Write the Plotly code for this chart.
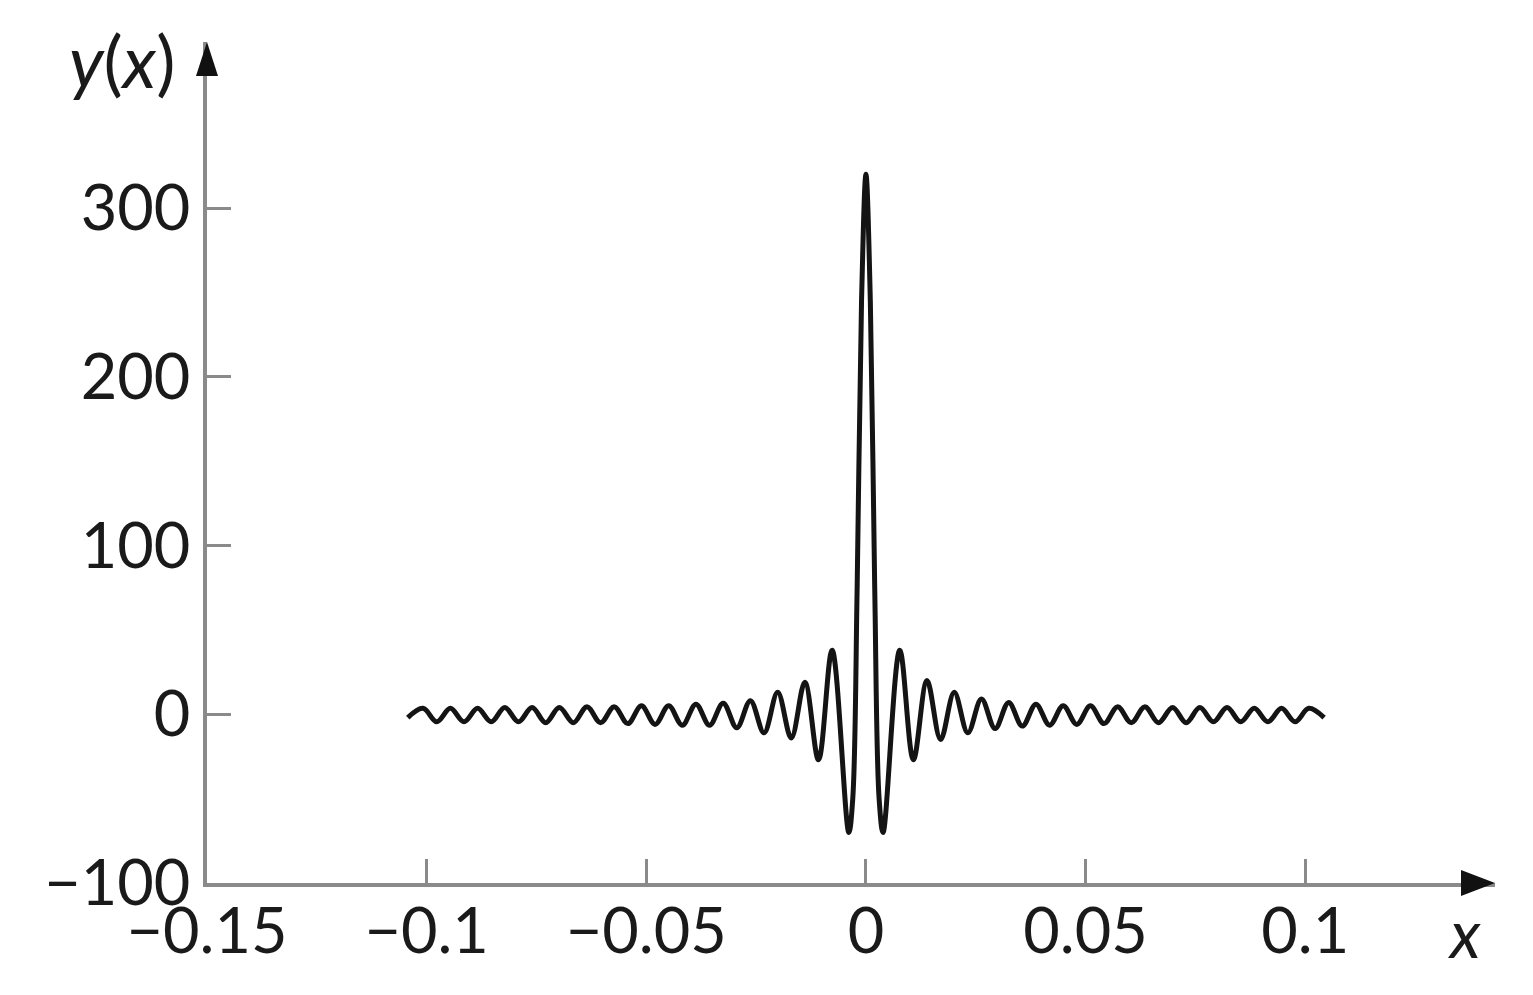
import plotly.graph_objects as go

# Curve samples (x, y(x)), left to right
x_vals = [
    -0.1043, -0.1008, -0.0977, -0.0946, -0.0915, -0.0884, -0.0853, -0.0822,
    -0.0791, -0.0760, -0.0729, -0.0698, -0.0666, -0.0635, -0.0604, -0.0573,
    -0.0542, -0.0511, -0.0480, -0.0449, -0.0418, -0.0387, -0.0356, -0.0325,
    -0.0294, -0.0263, -0.0232, -0.0201, -0.0170, -0.0139, -0.0108, -0.0077,
    -0.0039, -0.0030, -0.0020, -0.0010, 0.0,
    0.0010, 0.0020, 0.0030, 0.0039,
    0.0077, 0.0108, 0.0139, 0.0170, 0.0201, 0.0232, 0.0263, 0.0294,
    0.0325, 0.0356, 0.0387, 0.0418, 0.0449, 0.0480, 0.0511, 0.0542,
    0.0573, 0.0604, 0.0635, 0.0666, 0.0698, 0.0729, 0.0760, 0.0791,
    0.0822, 0.0853, 0.0884, 0.0915, 0.0946, 0.0977, 0.1008, 0.1043,
]
y_vals = [
    -2, 3.5, -4.5, 3.5, -4.5, 3.5, -4.5, 4,
    -4.5, 4, -5, 4, -5, 4.5, -5, 4.5,
    -5.5, 5, -6, 5, -6.5, 6, -6.5, 6.5,
    -8, 8, -11, 13, -14, 19, -27, 38,
    -70, -50, 75, 245, 320,
    245, 75, -50, -70,
    38, -27, 20, -15, 13, -11, 9, -8.5,
    7, -7, 6, -6.5, 5, -6, 5, -5.5,
    4.5, -5, 4.5, -5, 4, -5, 4, -4.5,
    4, -4.5, 3.5, -4.5, 3.5, -4.5, 3.5, -2,
]

x_ticks = [-0.15, -0.1, -0.05, 0, 0.05, 0.1]
x_ticktext = ["\u22120.15", "\u22120.1", "\u22120.05", "0", "0.05", "0.1"]
y_ticks = [-100, 0, 100, 200, 300]
y_ticktext = ["\u2212100", "0", "100", "200", "300"]

x_range = [-0.15, 0.1432]
y_range = [-100, 398.4]

font_family = "Lato"
text_color = "#1a1a1a"
axis_color = "#8a8a8a"

fig = go.Figure()

fig.add_trace(go.Scatter(
    x=x_vals,
    y=y_vals,
    mode="lines",
    line=dict(color="#141414", width=5, shape="spline", smoothing=1),
    showlegend=False,
    hoverinfo="skip",
))

axis_common = dict(
    showgrid=False,
    zeroline=False,
    showline=True,
    linecolor=axis_color,
    linewidth=4,
    ticks="inside",
    tickwidth=3,
    tickcolor=axis_color,
    tickfont=dict(family=font_family, size=63, color=text_color),
)

fig.update_xaxes(range=x_range, tickvals=x_ticks, ticktext=x_ticktext,
                 ticklen=24, ticklabelstandoff=-10, **axis_common)
fig.update_yaxes(range=y_range, tickvals=y_ticks, ticktext=y_ticktext,
                 ticklen=24, ticklabelstandoff=0, **axis_common)

# arrow heads at the ends of the axes
fig.add_shape(type="path", xref="paper", yref="paper",
              xsizemode="pixel", ysizemode="pixel",
              xanchor=1, yanchor=0,
              path="M -34,-13 L 0,0 L -34,13 Z",
              fillcolor="#111111", line=dict(width=0))
fig.add_shape(type="path", xref="paper", yref="paper",
              xsizemode="pixel", ysizemode="pixel",
              xanchor=0, yanchor=1,
              path="M -11,-34 L 0,0 L 11,-34 Z",
              fillcolor="#111111", line=dict(width=0))

fig.add_annotation(x=-0.066, y=0.979, xref="paper", yref="paper",
                   text="<i>y</i>(<i>x</i>)", showarrow=False,
                   xanchor="center", yanchor="middle",
                   font=dict(family=font_family, size=72, color=text_color))
fig.add_annotation(x=0.976, y=-0.0583, xref="paper", yref="paper",
                   text="<i>x</i>", showarrow=False,
                   xanchor="center", yanchor="middle",
                   font=dict(family=font_family, size=66, color=text_color))

fig.update_layout(
    width=1525,
    height=987,
    margin=dict(l=199, r=38, t=34, b=112),
    paper_bgcolor="white",
    plot_bgcolor="white",
    showlegend=False,
)

fig.write_html("out.html")
